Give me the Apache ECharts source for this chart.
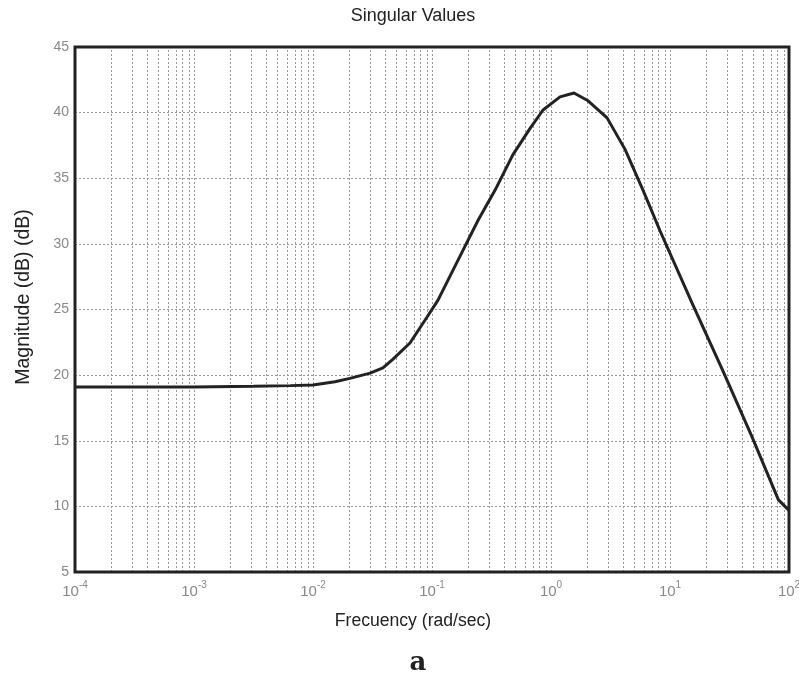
<!DOCTYPE html>
<html>
<head>
<meta charset="utf-8">
<script src="https://cdn.jsdelivr.net/npm/echarts@6/dist/echarts.min.js"></script>
<style>html,body{margin:0;padding:0;background:#fff}#c{width:799px;height:679px}</style>
</head>
<body>
<div id="c"></div>
<script>
// Frequencies (rad/sec)
var freq = [0.0001, 0.000316, 0.001, 0.00316, 0.00646, 0.01, 0.0153, 0.0204, 0.0302, 0.0387, 0.0468, 0.0653, 0.0912, 0.112, 0.182, 0.244, 0.339, 0.479, 0.667, 0.857, 1.19, 1.56, 2.05, 2.96, 4.19, 5.93, 8.24, 15.3, 27.9, 48.9, 81.5, 100];
// Singular value magnitude (dB)
var magnitude = [19.1, 19.1, 19.1, 19.15, 19.2, 19.25, 19.5, 19.75, 20.15, 20.55, 21.2, 22.45, 24.45, 25.7, 29.5, 31.8, 34.1, 36.8, 38.8, 40.2, 41.2, 41.5, 40.9, 39.6, 37.2, 34.1, 31.0, 25.5, 20.3, 15.3, 10.5, 9.7];
// Decade ticks and minor grid multipliers
var decades = [0.0001, 0.001, 0.01, 0.1, 1, 10, 100];
var decadeExp = ['-4', '-3', '-2', '-1', '0', '1', '2'];
var minorMult = [2, 3, 4, 5, 6, 7, 8, 9];
var yTicks = [5, 10, 15, 20, 25, 30, 35, 40, 45];

var gridFreqs = [];
for (var i = 0; i < decades.length - 1; i++) {
  if (i > 0) gridFreqs.push(decades[i]);
  for (var j = 0; j < minorMult.length; j++) gridFreqs.push(decades[i] * minorMult[j]);
}
var data = freq.map(function (f, k) { return [f, magnitude[k]]; });
var FONT = 'Liberation Sans, Arial, sans-serif';

var chart = echarts.init(document.getElementById('c'), null, {renderer: 'canvas'});
chart.setOption({
  animation: false,
  backgroundColor: '#fff',
  textStyle: {fontFamily: FONT},
  grid: {left: 75, right: 10, top: 47, bottom: 107, containLabel: false, outerBoundsMode: 'none',
         show: true, borderColor: '#222', borderWidth: 3, backgroundColor: 'transparent', z: 3},
  xAxis: {
    type: 'log', logBase: 10, min: 0.0001, max: 100,
    axisLine: {show: false}, axisTick: {show: false},
    splitLine: {show: false},
    axisLabel: {
      margin: 8, color: '#888', showMinLabel: true, showMaxLabel: true,
      formatter: function (v) {
        var idx = -1;
        for (var k = 0; k < decades.length; k++) if (Math.abs(decades[k] - v) / decades[k] < 1e-6) idx = k;
        if (idx < 0) return '';
        return '{b|10}{s|' + decadeExp[idx] + '}';
      },
      rich: {
        b: {fontSize: 15, color: '#888', fontFamily: FONT, verticalAlign: 'bottom'},
        s: {fontSize: 10, color: '#888', fontFamily: FONT, padding: [0, 0, 9, 0], verticalAlign: 'bottom'}
      }
    }
  },
  yAxis: {
    type: 'value', min: 5, max: 45, interval: 5,
    axisLine: {show: false}, axisTick: {show: false},
    axisLabel: {color: '#888', fontSize: 14, margin: 6},
    splitLine: {show: true, lineStyle: {color: '#999', type: [2, 2], width: 1}}
  },
  series: [{
    type: 'custom',
    silent: true,
    z: 1,
    data: gridFreqs.map(function (f) { return [f]; }),
    encode: {x: 0},
    renderItem: function (params, api) {
      var f = api.value(0);
      var p0 = api.coord([f, 5]);
      var p1 = api.coord([f, 45]);
      return {type: 'line', shape: {x1: Math.round(p0[0]) + 0.5, y1: p0[1], x2: Math.round(p1[0]) + 0.5, y2: p1[1]},
              style: {stroke: '#999', lineWidth: 1, lineDash: [2, 2]}};
    }
  }, {
    type: 'line', data: data, symbol: 'none', smooth: false,
    lineStyle: {color: '#222', width: 3},
    z: 5
  }],
  graphic: [
    {type: 'text', style: {text: 'Singular Values', x: 413, y: 16, align: 'center', verticalAlign: 'middle', font: '18px "Liberation Sans", Arial, sans-serif', fill: '#222'}},
    {type: 'text', style: {text: 'Frecuency (rad/sec)', x: 413, y: 621, align: 'center', verticalAlign: 'middle', font: '17.6px "Liberation Sans", Arial, sans-serif', fill: '#222'}},
    {type: 'text', rotation: Math.PI / 2, x: 24, y: 297, style: {text: 'Magnitude (dB) (dB)', x: 0, y: 0, align: 'center', verticalAlign: 'middle', font: '19.5px "Liberation Sans", Arial, sans-serif', fill: '#222'}},
    {type: 'text', style: {text: 'a', x: 418, y: 663, align: 'center', verticalAlign: 'middle', font: 'bold 26px "DejaVu Serif", serif', fill: '#222'}}
  ]
});
</script>
</body>
</html>
